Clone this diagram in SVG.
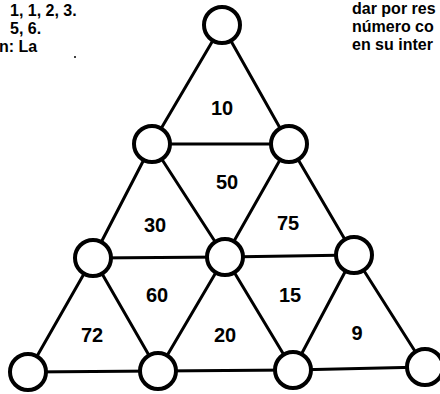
<svg xmlns="http://www.w3.org/2000/svg" width="440" height="394" viewBox="0 0 440 394">
<style>
.edge{stroke:#000;stroke-width:3;fill:none;stroke-linecap:round}
.node circle{fill:#fff;stroke:#000;stroke-width:4}
.num{font-family:"Liberation Sans",Arial,sans-serif;font-weight:bold;font-size:20px;text-anchor:middle;fill:#000}
.side{font-family:"Liberation Sans",Arial,sans-serif;font-weight:bold;font-size:16px;fill:#000}
</style>
<rect width="440" height="394" fill="#fff"/>
<g id="side-text">
<text class="side" x="10" y="16">1, 1, 2, 3.</text>
<text class="side" x="10" y="34">5, 6.</text>
<text class="side" x="-1" y="52">n: La</text>
<circle cx="75" cy="57" r="1" fill="#000"/>
<text class="side" x="352" y="14">dar por res</text>
<text class="side" x="352" y="32">número co</text>
<text class="side" x="352" y="50">en su inter</text>
</g>
<g id="connectors">
<line class="edge" x1="222" y1="25" x2="152" y2="144"/>
<line class="edge" x1="222" y1="25" x2="289" y2="144"/>
<line class="edge" x1="152" y1="144" x2="289" y2="144"/>
<line class="edge" x1="152" y1="144" x2="93" y2="258"/>
<line class="edge" x1="152" y1="144" x2="225" y2="257"/>
<line class="edge" x1="289" y1="144" x2="225" y2="257"/>
<line class="edge" x1="289" y1="144" x2="354" y2="255"/>
<line class="edge" x1="93" y1="258" x2="225" y2="257"/>
<line class="edge" x1="225" y1="257" x2="354" y2="255"/>
<line class="edge" x1="93" y1="258" x2="28" y2="372"/>
<line class="edge" x1="93" y1="258" x2="158" y2="371"/>
<line class="edge" x1="225" y1="257" x2="158" y2="371"/>
<line class="edge" x1="225" y1="257" x2="293" y2="370"/>
<line class="edge" x1="354" y1="255" x2="293" y2="370"/>
<line class="edge" x1="354" y1="255" x2="425" y2="367"/>
<line class="edge" x1="28" y1="372" x2="158" y2="371"/>
<line class="edge" x1="158" y1="371" x2="293" y2="370"/>
<line class="edge" x1="293" y1="370" x2="425" y2="367"/>
</g>
<g id="n-top" class="node"><circle cx="222" cy="25" r="18"/></g>
<g id="n-r2-left" class="node"><circle cx="152" cy="144" r="18"/></g>
<g id="n-r2-right" class="node"><circle cx="289" cy="144" r="18"/></g>
<g id="n-r3-left" class="node"><circle cx="93" cy="258" r="18"/></g>
<g id="n-r3-mid" class="node"><circle cx="225" cy="257" r="18"/></g>
<g id="n-r3-right" class="node"><circle cx="354" cy="255" r="18"/></g>
<g id="n-r4-1" class="node"><circle cx="28" cy="372" r="18"/></g>
<g id="n-r4-2" class="node"><circle cx="158" cy="371" r="18"/></g>
<g id="n-r4-3" class="node"><circle cx="293" cy="370" r="18"/></g>
<g id="n-r4-4" class="node"><circle cx="425" cy="367" r="18"/></g>
<g id="labels">
<text class="num" x="222" y="115">10</text>
<text class="num" x="227" y="189">50</text>
<text class="num" x="155" y="232">30</text>
<text class="num" x="288" y="230">75</text>
<text class="num" x="157" y="302">60</text>
<text class="num" x="290" y="302">15</text>
<text class="num" x="92" y="342">72</text>
<text class="num" x="225" y="342">20</text>
<text class="num" x="357" y="340">9</text>
</g>
</svg>
